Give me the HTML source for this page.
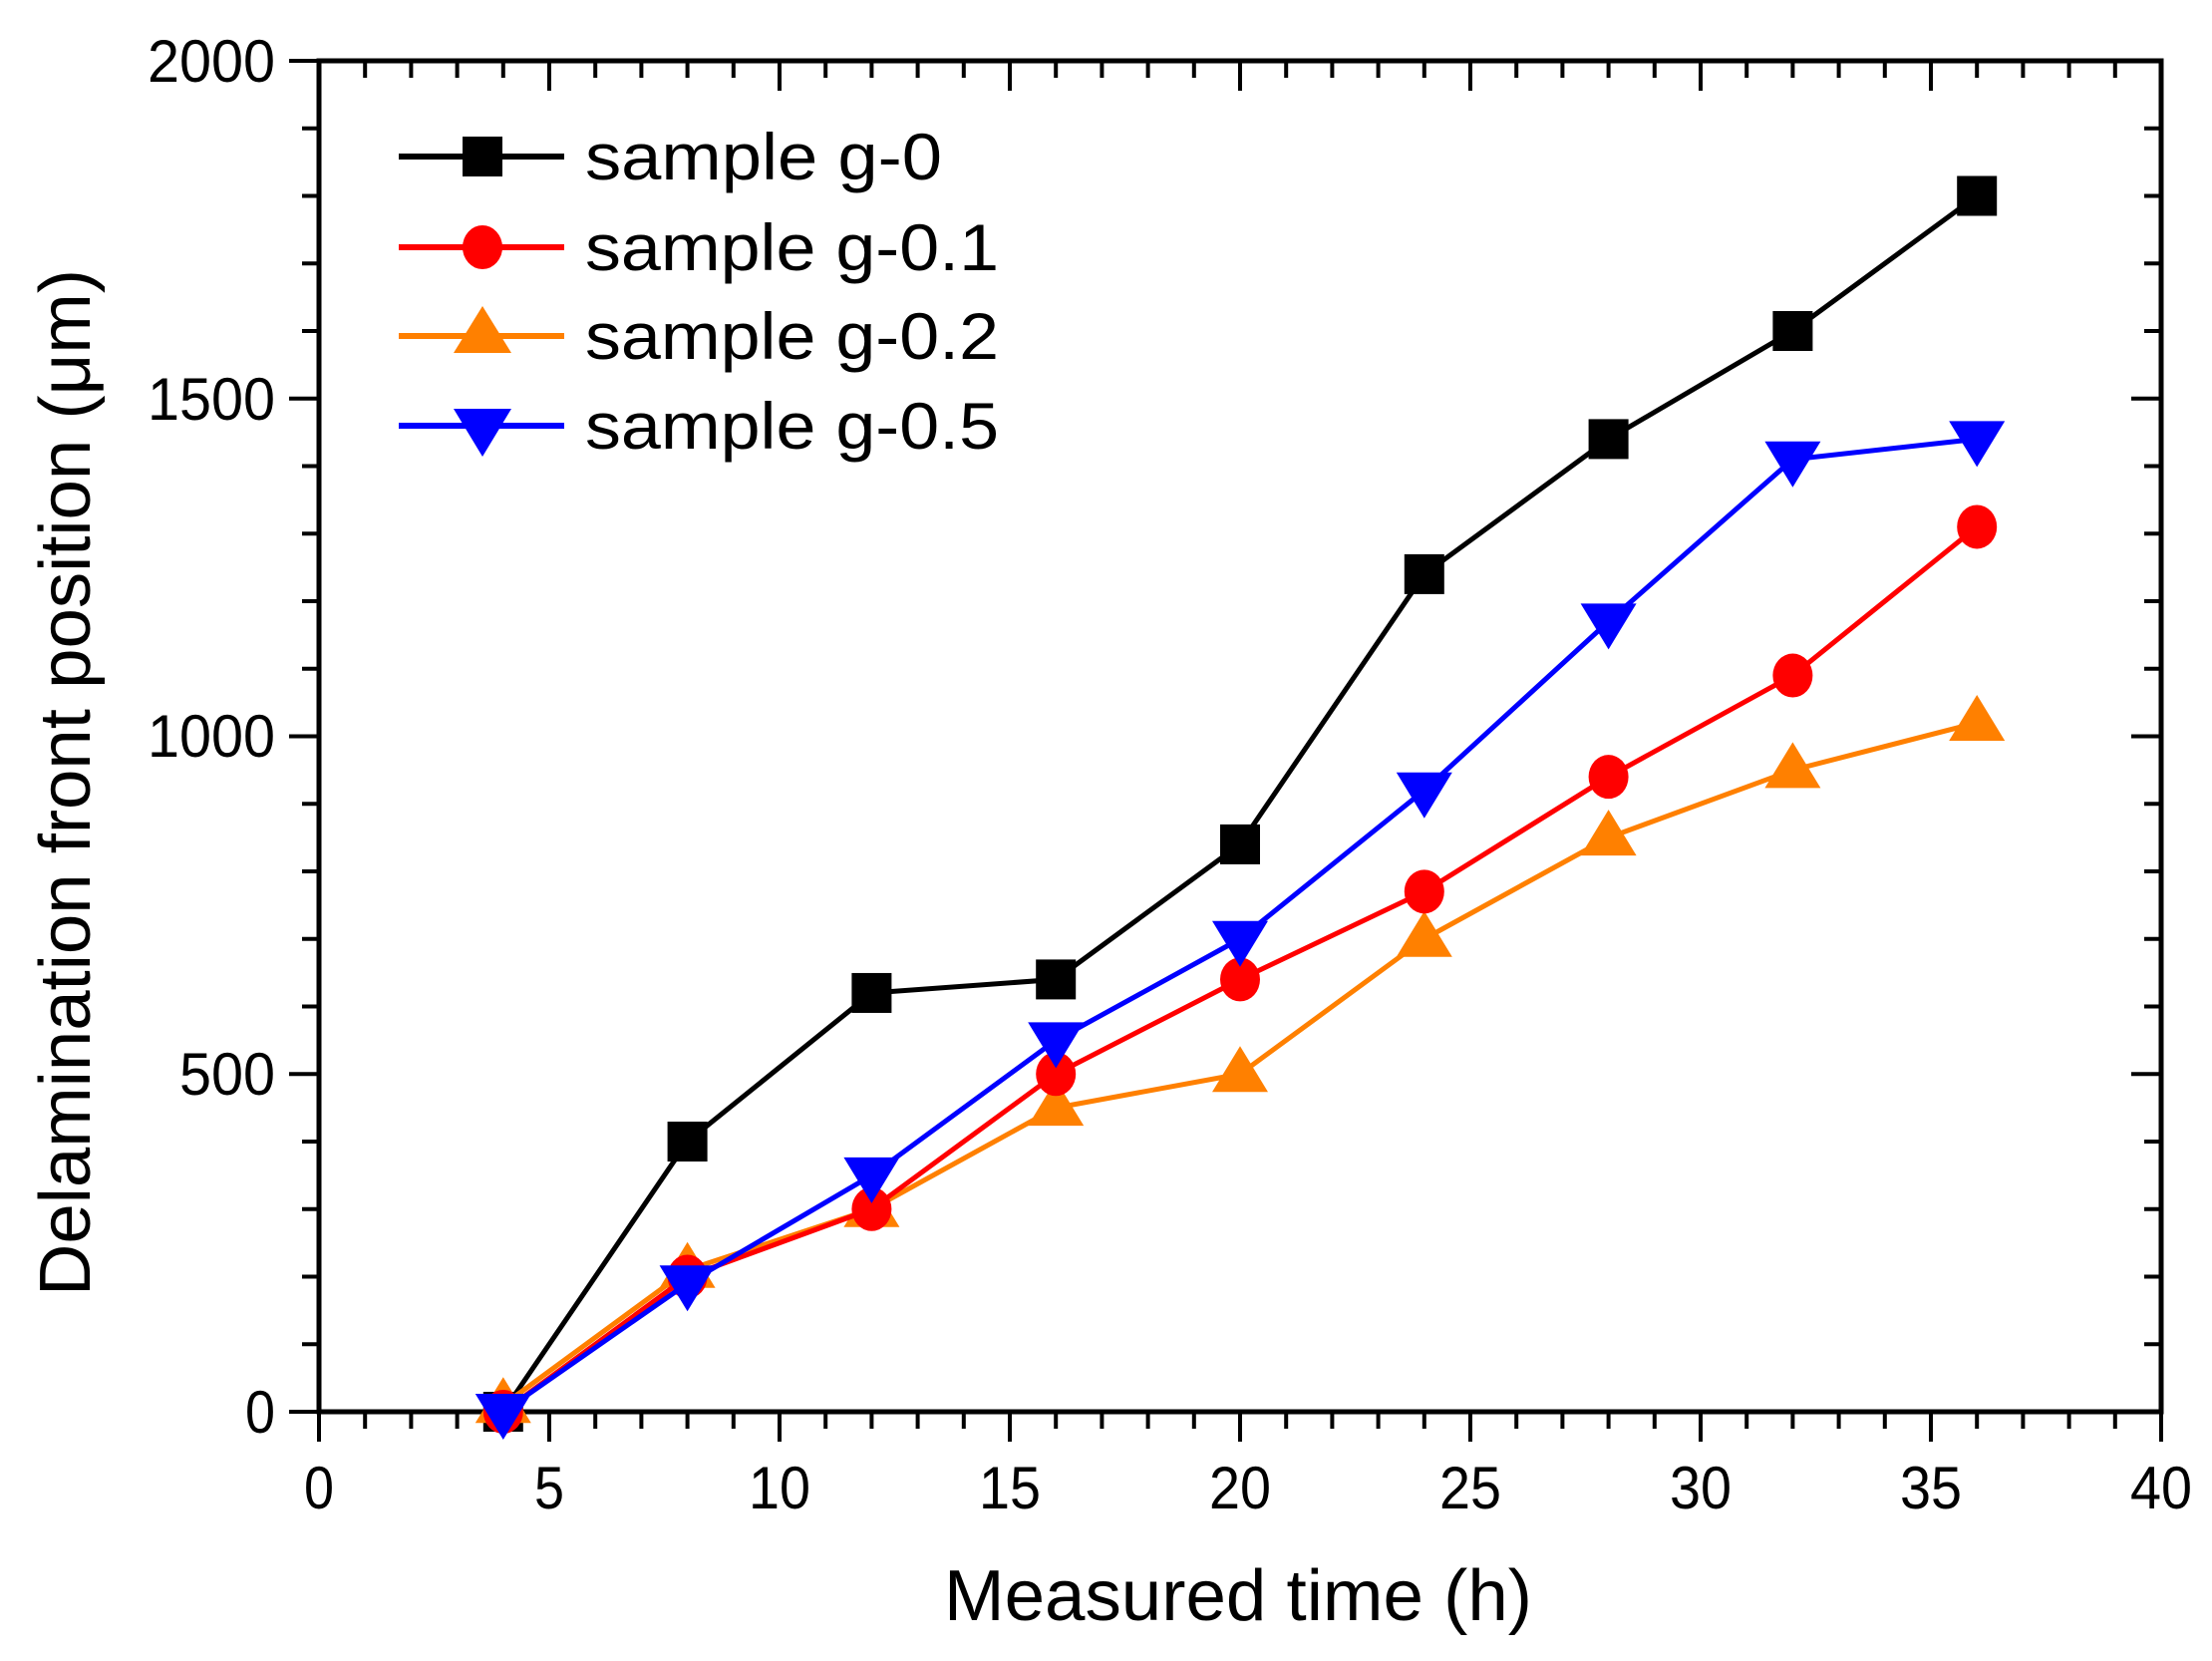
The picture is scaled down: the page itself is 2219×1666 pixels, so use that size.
<!DOCTYPE html>
<html><head><style>body{margin:0;background:#fff}svg{display:block}</style></head><body>
<svg width="2219" height="1666" xmlns="http://www.w3.org/2000/svg" font-family="Liberation Sans, sans-serif">
<g id="ticks" stroke="#000" stroke-width="4"></g>
<rect x="320" y="61" width="1848" height="1355" fill="none" stroke="#000" stroke-width="5"/>
<g id="data"></g>
<g font-size="60" text-anchor="middle" fill="#000">
<text x="320" y="1513" textLength="30" lengthAdjust="spacingAndGlyphs">0</text>
<text x="551" y="1513" textLength="30" lengthAdjust="spacingAndGlyphs">5</text>
<text x="782" y="1513" textLength="62" lengthAdjust="spacingAndGlyphs">10</text>
<text x="1013" y="1513" textLength="62" lengthAdjust="spacingAndGlyphs">15</text>
<text x="1244" y="1513" textLength="62" lengthAdjust="spacingAndGlyphs">20</text>
<text x="1475" y="1513" textLength="62" lengthAdjust="spacingAndGlyphs">25</text>
<text x="1706" y="1513" textLength="62" lengthAdjust="spacingAndGlyphs">30</text>
<text x="1937" y="1513" textLength="62" lengthAdjust="spacingAndGlyphs">35</text>
<text x="2168" y="1513" textLength="62" lengthAdjust="spacingAndGlyphs">40</text>
</g>
<g font-size="60" text-anchor="end" fill="#000">
<text x="276" y="1437" textLength="30" lengthAdjust="spacingAndGlyphs">0</text>
<text x="276" y="1098" textLength="96" lengthAdjust="spacingAndGlyphs">500</text>
<text x="276" y="759" textLength="128" lengthAdjust="spacingAndGlyphs">1000</text>
<text x="276" y="421" textLength="128" lengthAdjust="spacingAndGlyphs">1500</text>
<text x="276" y="82" textLength="128" lengthAdjust="spacingAndGlyphs">2000</text>
</g>
<text x="1242" y="1625" font-size="72" text-anchor="middle" textLength="590" lengthAdjust="spacingAndGlyphs">Measured time (h)</text>
<text transform="translate(90,785) rotate(-90)" font-size="72" text-anchor="middle" textLength="1030" lengthAdjust="spacingAndGlyphs">Delamination front position (μm)</text>
<g font-size="66">
<line x1="400" y1="157" x2="566" y2="157" stroke="#000" stroke-width="6"/><rect x="464" y="137" width="40" height="40" fill="#000"/>
<text x="587" y="180" textLength="358" lengthAdjust="spacingAndGlyphs">sample g-0</text>
<line x1="400" y1="248" x2="566" y2="248" stroke="#f00" stroke-width="6"/><ellipse cx="484" cy="248" rx="20" ry="22" fill="#f00"/>
<text x="587" y="271" textLength="415" lengthAdjust="spacingAndGlyphs">sample g-0.1</text>
<line x1="400" y1="337" x2="566" y2="337" stroke="#ff8000" stroke-width="6"/><polygon points="484,307 455,354 513,354" fill="#ff8000"/>
<text x="587" y="360" textLength="415" lengthAdjust="spacingAndGlyphs">sample g-0.2</text>
<line x1="400" y1="427" x2="566" y2="427" stroke="#00f" stroke-width="6"/><polygon points="455,410 513,410 484,458" fill="#00f"/>
<text x="587" y="450" textLength="415" lengthAdjust="spacingAndGlyphs">sample g-0.5</text>
</g>
</svg>
<script>
const ns="http://www.w3.org/2000/svg";
const X=x=>320+x*46.2, Y=y=>1416-y*0.6775;
const t=document.getElementById('ticks');
function L(g,a,b,c,d){const l=document.createElementNS(ns,'line');l.setAttribute('x1',a);l.setAttribute('y1',b);l.setAttribute('x2',c);l.setAttribute('y2',d);g.appendChild(l);}
for(let i=0;i<=40;i++){const x=X(i),m=i%5==0,len=m?30:17;
 L(t,x,1416,x,1416+len);L(t,x,61,x,61+len);}
for(let v=0;v<=2000;v+=100){const y=Y(v),m=v%500==0,len=m?30:17;
 L(t,320,y,320-len,y);L(t,2168,y,2168-len,y);}
const d=document.getElementById('data');
const xs=[4,8,12,16,20,24,28,32,36];
const S=[
 ['#000',[0,400,620,640,840,1240,1440,1600,1800],'sq'],
 ['#ff8000',[10,210,300,450,500,700,850,950,1020],'up'],
 ['#f00',[0,200,300,500,640,770,940,1090,1310],'c'],
 ['#00f',[0,190,350,550,700,920,1170,1410,1440],'down']];
for(const [c,ys,m] of S){
 const p=document.createElementNS(ns,'polyline');
 p.setAttribute('points',xs.map((x,i)=>X(x)+','+Y(ys[i])).join(' '));
 p.setAttribute('fill','none');p.setAttribute('stroke',c);p.setAttribute('stroke-width',5);d.appendChild(p);
 xs.forEach((x,i)=>{const cx=X(x),cy=Y(ys[i]);let e;
  if(m=='sq'){e=document.createElementNS(ns,'rect');e.setAttribute('x',cx-20);e.setAttribute('y',cy-20);e.setAttribute('width',40);e.setAttribute('height',40);}
  else if(m=='c'){e=document.createElementNS(ns,'ellipse');e.setAttribute('cx',cx);e.setAttribute('cy',cy);e.setAttribute('rx',20);e.setAttribute('ry',22);}
  else if(m=='up'){e=document.createElementNS(ns,'polygon');e.setAttribute('points',`${cx},${cy-28} ${cx-28},${cy+18} ${cx+28},${cy+18}`);}
  else {e=document.createElementNS(ns,'polygon');e.setAttribute('points',`${cx-28},${cy-18} ${cx+28},${cy-18} ${cx},${cy+28}`);}
  e.setAttribute('fill',c);d.appendChild(e);});
}
</script>
</body></html>
